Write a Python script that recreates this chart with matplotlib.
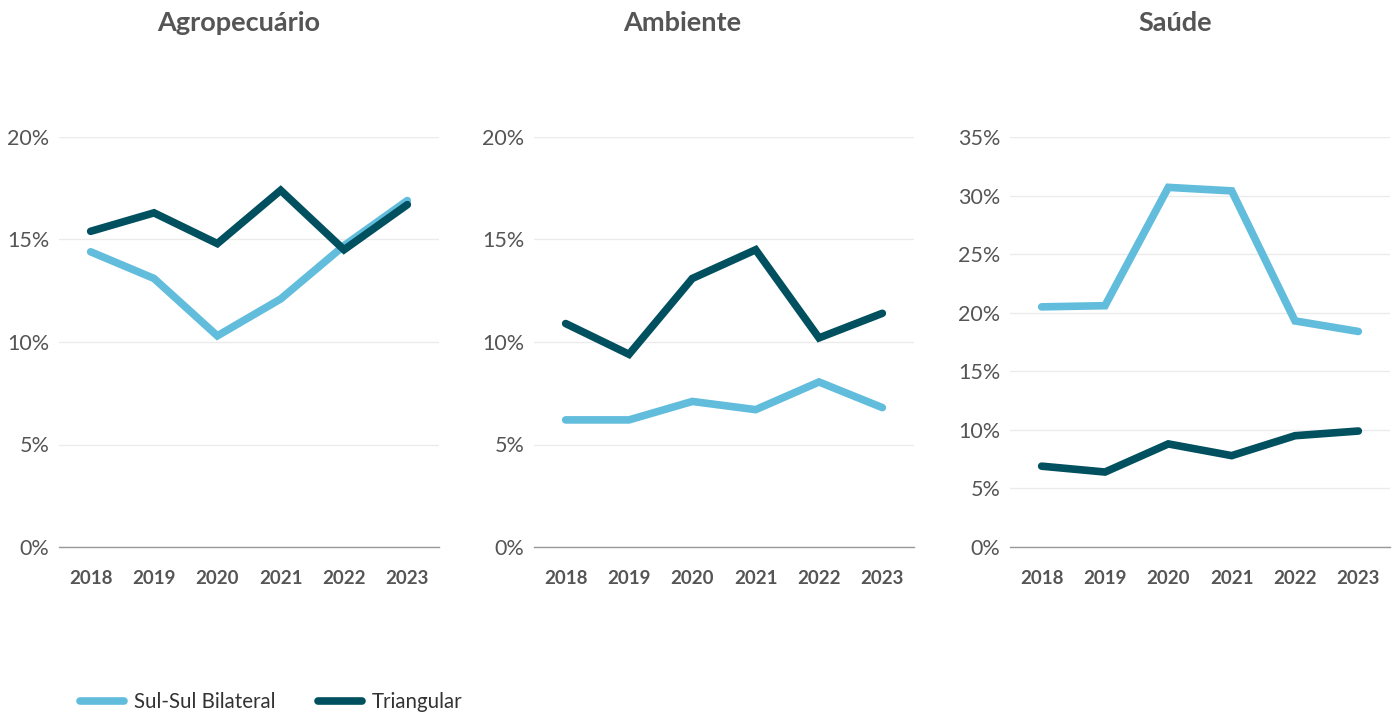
import numpy as np
import matplotlib as mpl
import matplotlib.pyplot as plt
from matplotlib.ticker import FuncFormatter

mpl.use('agg')

plt.rcParams['font.family'] = ['Lato', 'DejaVu Sans']

years = ['2018', '2019', '2020', '2021', '2022', '2023']
titles = ['Agropecuário', 'Ambiente', 'Saúde']

# share of each sector, in percent
agro_bilateral = [14.4, 13.1, 10.3, 12.1, 14.7, 16.9]
agro_triangular = [15.4, 16.3, 14.8, 17.4, 14.5, 16.7]
amb_bilateral = [6.2, 6.2, 7.1, 6.7, 8.05, 6.8]
amb_triangular = [10.9, 9.4, 13.1, 14.5, 10.2, 11.4]
saude_bilateral = [20.5, 20.6, 30.7, 30.4, 19.3, 18.4]
saude_triangular = [6.9, 6.4, 8.8, 7.8, 9.5, 9.9]

y_max = [20, 20, 35]

light = '#62bddd'
dark = '#00505f'
text_col = '#555555'

W, H = 1398, 713
fig = plt.figure(figsize=(W / 100, H / 100), dpi=100)

lefts = [59, 534, 1010]
ax_w = 380
ax_bottom = 1 - 547 / H
ax_h = (547 - 137) / H

series = [(agro_bilateral, agro_triangular),
          (amb_bilateral, amb_triangular),
          (saude_bilateral, saude_triangular)]
title_x = [239, 682, 1175]

x = np.arange(len(years))
for i in range(3):
    ax = fig.add_axes([lefts[i] / W, ax_bottom, ax_w / W, ax_h])
    bil, tri = series[i]
    l1, = ax.plot(x, bil, color=light, lw=5.5, solid_capstyle='round',
                  solid_joinstyle='miter', label='Sul-Sul Bilateral', zorder=3)
    l2, = ax.plot(x, tri, color=dark, lw=5.5, solid_capstyle='round',
                  solid_joinstyle='miter', label='Triangular', zorder=3)
    ax.set_xlim(-0.5, len(years) - 0.5)
    ax.set_ylim(0, y_max[i])
    ax.set_yticks(np.arange(0, y_max[i] + 1, 5))
    ax.yaxis.set_major_formatter(FuncFormatter(lambda v, p: '%d%%' % v))
    ax.set_xticks(x)
    ax.set_xticklabels(years, fontweight='bold')
    ax.grid(axis='y', color='#ebebeb', lw=1, zorder=0)
    for s in ['top', 'right', 'left']:
        ax.spines[s].set_visible(False)
    ax.spines['bottom'].set_color('#999999')
    ax.spines['bottom'].set_linewidth(1)
    ax.spines['bottom'].set_zorder(4)
    ax.tick_params(axis='y', length=0, pad=7, labelsize=15.5, labelcolor=text_col)
    ax.tick_params(axis='x', length=0, pad=16.5, labelsize=13.5, labelcolor=text_col)
    fig.text(title_x[i] / W, 1 - 23 / H, titles[i], ha='center', va='center',
             fontsize=19.5, fontweight='bold', color=text_col)

fig.legend(handles=[l1, l2], loc='center left', bbox_to_anchor=(61 / W, 1 - 702 / H),
           ncol=2, frameon=False, fontsize=14.8, handlelength=2.15,
           handletextpad=0.5, columnspacing=2.05, labelcolor='#333333')

fig.savefig('out.png', dpi=100)
